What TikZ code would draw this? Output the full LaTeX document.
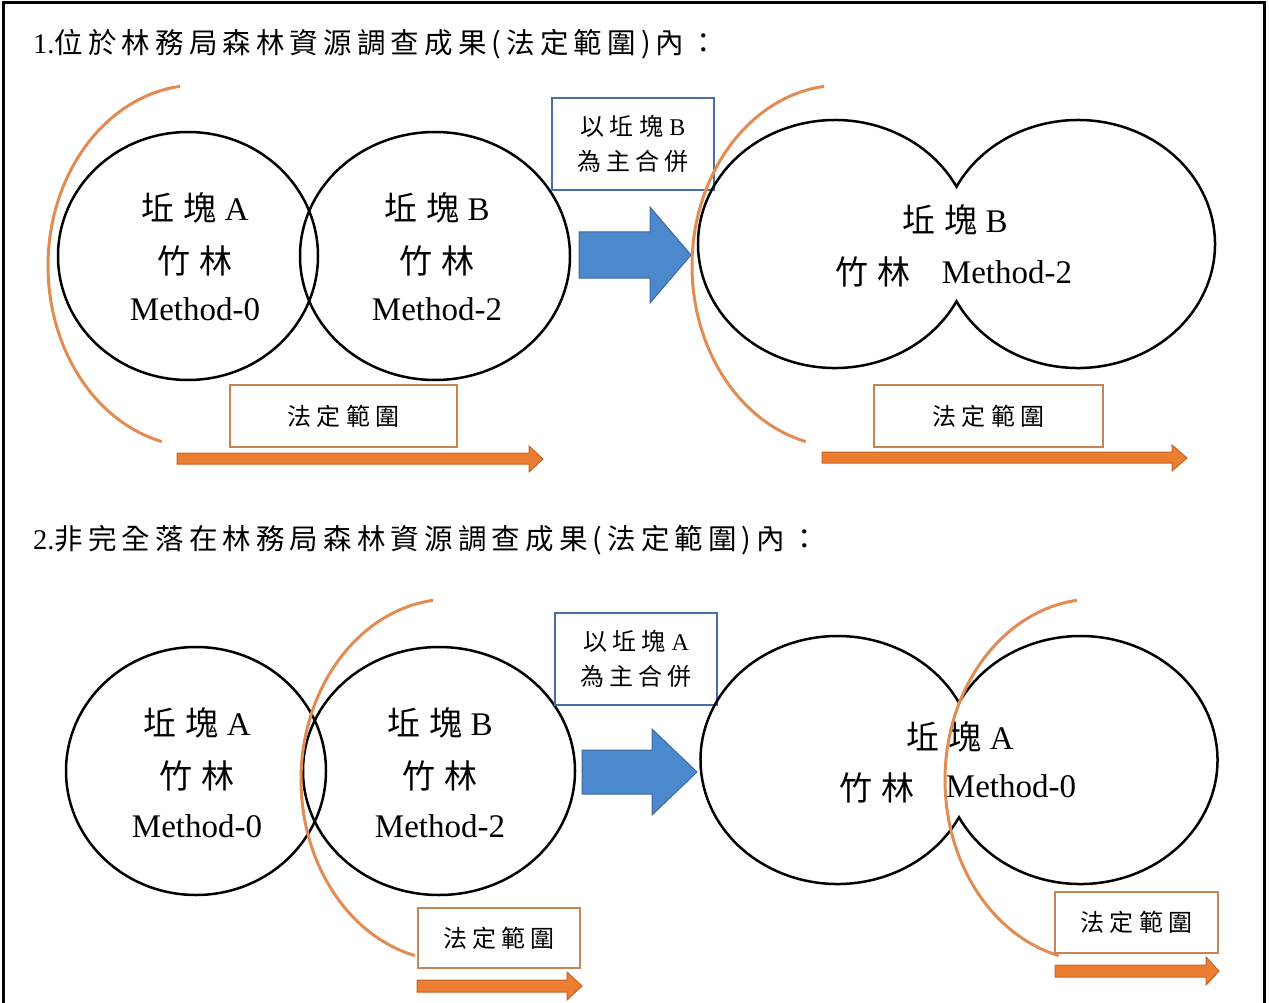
\documentclass[tikz,border=0pt]{standalone}
\usepackage{fontspec}
\setmainfont{Liberation Serif}
\newfontfamily\cjkT[LetterSpace=18]{Noto Sans CJK TC}
\newfontfamily\cjkC[LetterSpace=28]{Noto Sans CJK TC}
\newfontfamily\cjkS[LetterSpace=22]{Noto Sans CJK TC}
\definecolor{arcorange}{RGB}{226,140,84}
\definecolor{boxorange}{RGB}{196,134,86}
\definecolor{arrowfill}{RGB}{237,125,49}
\definecolor{arrowline}{RGB}{196,100,40}
\definecolor{boxblue}{RGB}{72,110,168}
\definecolor{bluefill}{RGB}{76,136,204}
\definecolor{blueline}{RGB}{60,105,165}
\tikzset{
  circ/.style={draw=black, line width=2.5pt},
  orarc/.style={draw=arcorange, line width=3pt},
  obox/.style={draw=boxorange, line width=2pt, fill=white, inner sep=0pt,
    font=\fontsize{24}{28}\selectfont\cjkS},
  bbox/.style={draw=boxblue, line width=2pt, fill=white, inner sep=0pt, align=center,
    font=\fontsize{24}{35}\selectfont},
  oarrow/.style={fill=arrowfill, draw=arrowline, line width=1pt},
  barrow/.style={fill=bluefill, draw=blueline, line width=1pt},
  lbl/.style={inner sep=0pt, font=\fontsize{33}{40}\selectfont},
  title/.style={inner sep=0pt, anchor=west, font=\fontsize{28.5}{34}\selectfont},
}
\begin{document}
\begin{tikzpicture}[x=1pt,y=-1pt]
\useasboundingbox (0,0) rectangle (1269,1003);
\fill[white] (0,0) rectangle (1269,1003);
\draw[line width=3pt] (3,1003) -- (3,3) -- (1264,3) -- (1264,1003);

% titles
\node[title] (t1) at (33,44) {1.{\cjkT 位於林務局森林資源調查成果(法定範圍)內：}};
\node[title] (t2) at (33,540) {2.{\cjkT 非完全落在林務局森林資源調查成果(法定範圍)內：}};

% ---------- section 1 left ----------
\draw[circ] (188,256) ellipse[x radius=130pt, y radius=124pt];
\draw[circ] (435,256) ellipse[x radius=135pt, y radius=124pt];
\node[lbl] (a1n) at (195,208) {{\cjkC 坵塊} A};
\node[lbl] (a1c) at (195,261) {\cjkC 竹林};
\node[lbl] (a1m) at (195,309) {Method-0};
\node[lbl] (b1n) at (437,208) {{\cjkC 坵塊} B};
\node[lbl] (b1c) at (437,261) {\cjkC 竹林};
\node[lbl] (b1m) at (437,309) {Method-2};
\draw[orarc] (180,86.3) arc[start angle=96.9, end angle=256, x radius=150pt, y radius=181pt];
\node[obox, minimum width=227, minimum height=62] (r1) at (343.5,416) {法定範圍};
\draw[oarrow] (177,453) -- (529,453) -- (529,446) -- (543,459) -- (529,472) -- (529,464) -- (177,464) -- cycle;

% merge note + arrow 1
\node[bbox, minimum width=162, minimum height=92] (m1) at (633,144) {{\cjkS 以坵塊} B\\{\cjkS 為主合併}};
\draw[barrow] (579,232) -- (650,232) -- (650,207) -- (691,255) -- (650,303) -- (650,278) -- (579,278) -- cycle;

% ---------- section 1 right ----------
\draw[circ] (956.5,301.3) arc[start angle=-27.52, end angle=-332.48, x radius=137pt, y radius=124pt]
  arc[start angle=152.48, end angle=-152.48, x radius=137pt, y radius=124pt] -- cycle;
\node[lbl] (c1n) at (955,220) {{\cjkC 坵塊} B};
\node[lbl] (c1c) at (873,272) {\cjkC 竹林};
\node[lbl] (c1m) at (1007,272) {Method-2};
\begin{scope}[shift={(644,0)}]
\draw[orarc] (180,86.3) arc[start angle=96.9, end angle=256, x radius=150pt, y radius=181pt];
\end{scope}
\node[obox, minimum width=229, minimum height=62] (r2) at (988.5,416) {法定範圍};
\draw[oarrow] (822,452) -- (1172,452) -- (1172,445) -- (1187,458) -- (1172,471) -- (1172,463) -- (822,463) -- cycle;

% ---------- section 2 left ----------
\draw[circ] (196,771) ellipse[x radius=130pt, y radius=124pt];
\draw[circ] (439,771) ellipse[x radius=136pt, y radius=124pt];
\node[lbl] (a2n) at (197,723) {{\cjkC 坵塊} A};
\node[lbl] (a2c) at (197,776) {\cjkC 竹林};
\node[lbl] (a2m) at (197,826) {Method-0};
\node[lbl] (b2n) at (440,723) {{\cjkC 坵塊} B};
\node[lbl] (b2c) at (440,776) {\cjkC 竹林};
\node[lbl] (b2m) at (440,826) {Method-2};
\begin{scope}[shift={(253,514)}]
\draw[orarc] (180,86.3) arc[start angle=96.9, end angle=256, x radius=150pt, y radius=181pt];
\end{scope}
\node[obox, minimum width=162, minimum height=60] (r3) at (499,938) {法定範圍};
\draw[oarrow] (417,980) -- (567,980) -- (567,972) -- (582,986) -- (567,1000) -- (567,992) -- (417,992) -- cycle;

% merge note + arrow 2
\node[bbox, minimum width=162, minimum height=92] (m2) at (636,659) {{\cjkS 以坵塊} A\\{\cjkS 為主合併}};
\draw[barrow] (582,750) -- (652,750) -- (652,729) -- (697,772) -- (652,815) -- (652,794) -- (582,794) -- cycle;

% ---------- section 2 right ----------
\begin{scope}[shift={(2.5,516)}]
\draw[circ] (956.5,301.3) arc[start angle=-27.52, end angle=-332.48, x radius=137pt, y radius=124pt]
  arc[start angle=152.48, end angle=-152.48, x radius=137pt, y radius=124pt] -- cycle;
\end{scope}
\node[lbl] (c2n) at (960,737) {{\cjkC 坵塊} A};
\node[lbl] (c2c) at (877,788) {\cjkC 竹林};
\node[lbl] (c2m) at (1011,786) {Method-0};
\begin{scope}[shift={(897,514)}]
\draw[orarc] (180,86.3) arc[start angle=96.9, end angle=256, x radius=150pt, y radius=181pt];
\end{scope}
\node[obox, minimum width=163, minimum height=61] (r4) at (1136.5,922.5) {法定範圍};
\draw[oarrow] (1055,965) -- (1206,965) -- (1206,957) -- (1219,971) -- (1206,985) -- (1206,977) -- (1055,977) -- cycle;
\end{tikzpicture}
\end{document}
